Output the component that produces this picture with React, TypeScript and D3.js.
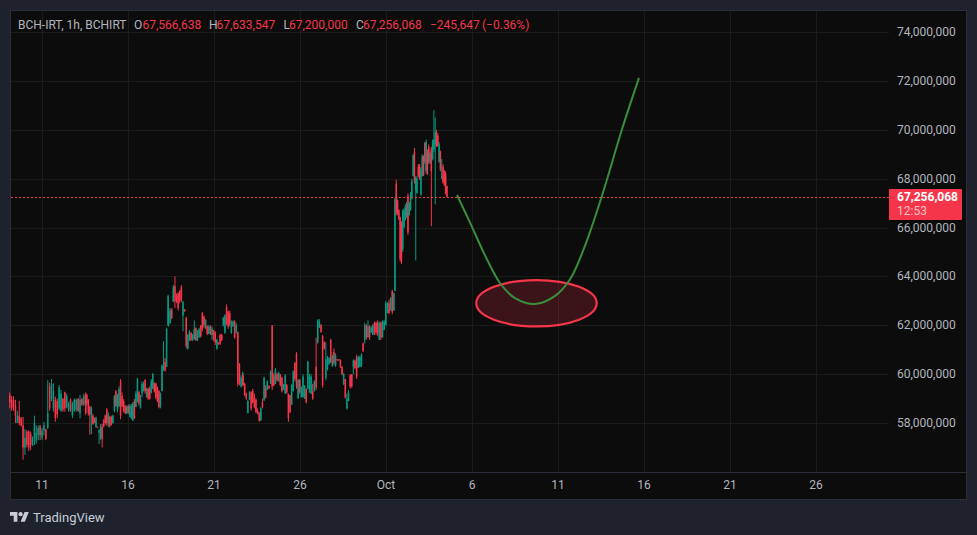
import * as d3 from 'd3';
import * as React from 'react';

type Candle = [number, number, number, number]; // open, high, low, close (millions)

const sepEarly: Candle[] = [
  [59.15,59.25,58.6,58.85],[58.95,59.1,58.5,58.6],[58.95,59.1,58.5,58.65],[58.7,58.95,58.0,58.3],
  [58.0,58.5,58.0,58.3],[58.3,58.9,57.9,58.0],[58.2,58.25,57.85,57.9],[57.9,58.25,56.5,57.0],
  [57.0,57.75,56.7,57.4],[57.65,57.7,57.0,57.1],[57.65,57.7,56.85,57.0],[57.55,57.65,56.9,57.1],
  [57.1,57.45,57.05,57.4],[57.4,58.3,57.1,58.0],[57.25,57.9,57.15,57.6],[57.5,57.9,57.3,57.8],
  [57.9,57.9,57.3,57.5],[57.4,57.8,57.3,57.7],[57.7,58.05,57.5,57.9],[57.75,57.75,57.3,57.35],
  [57.8,59.75,57.75,58.4],[59.5,59.65,58.5,58.6],[59.0,59.8,58.9,59.6],[58.6,59.62,58.46,59.3],
  [58.95,59.08,58.05,58.2],[58.9,59.0,58.2,58.35],[58.6,59.55,58.53,59.45],[58.5,59.35,58.46,59.2],
  [59.0,59.0,58.46,58.55],[59.25,59.28,58.46,58.6],[58.65,59.2,58.6,59.1],[58.5,58.87,58.46,58.8],
  [58.95,59.0,58.46,58.55],[58.3,58.87,58.2,58.8],[58.5,59.0,58.46,58.95],[58.55,59.0,58.46,58.95],
  [59.0,59.0,58.46,58.5],[58.4,59.15,58.2,58.95],[59.0,59.0,58.7,58.75],[58.75,59.2,58.7,59.1],
  [59.2,59.25,58.33,58.4],
];

const sepMid: Candle[] = [
  [59.15,59.19,58.71,58.8],[58.95,58.98,58.3,58.4],[58.65,58.71,57.52,58.35],[58.3,58.67,57.55,58.6],
  [58.3,58.37,57.93,57.95],[58.2,58.23,57.99,58.0],[57.85,58.26,57.8,58.2],[57.85,57.85,57.8,57.82],
  [57.6,57.75,57.14,57.7],[57.4,57.96,57.3,57.85],[57.85,57.96,57.0,57.35],[58.1,58.16,57.82,57.85],
  [58.3,58.34,57.93,58.0],[58.55,58.61,57.89,58.0],[57.95,58.44,57.82,58.35],[58.25,58.3,57.82,57.9],
  [58.25,58.3,57.89,57.95],[57.99,58.34,57.99,58.3],[58.5,59.15,58.44,59.1],[59.3,59.35,58.65,58.7],
  [58.55,59.19,58.44,59.1],[58.7,59.5,58.65,59.4],[59.7,59.8,58.15,58.3],[59.1,59.25,58.65,58.7],
  [58.9,58.98,58.44,58.5],[58.7,58.75,58.37,58.4],[58.4,58.71,58.37,58.65],[58.7,58.75,58.37,58.42],
  [58.25,58.78,58.25,58.7],[58.2,58.78,58.16,58.7],[58.1,58.85,58.1,58.8],[58.9,58.98,58.16,58.2],
  [58.65,59.3,58.65,59.2],[58.85,59.85,58.85,59.8],[59.25,59.3,58.71,58.8],[58.6,59.15,58.6,59.0],
  [59.2,59.7,59.05,59.6],[59.3,59.7,59.3,59.6],[59.75,59.8,59.2,59.3],[59.05,59.45,59.05,59.4],
  [59.4,59.45,58.95,59.0],[59.4,59.5,58.95,59.0],[59.25,59.8,59.2,59.7],[59.4,60.05,59.4,60.0],
  [59.65,59.65,59.25,59.3],[59.6,59.65,58.98,59.05],[59.45,59.5,58.85,58.9],[59.3,59.35,58.6,58.65],
  [58.7,59.25,58.6,59.2],[59.3,60.4,59.3,60.35],[60.15,61.35,60.15,60.3],[60.5,60.65,60.1,60.15],
  [60.3,61.9,60.3,61.85],[62.0,63.25,61.95,63.2],
];

const sepLate: Candle[] = [
  [62.0,62.8,61.95,62.7],[62.1,62.7,62.05,62.6],[62.65,62.7,62.25,62.3],[62.95,63.65,62.95,63.55],
  [63.6,64.0,62.7,63.0],[63.2,63.3,62.9,62.95],[63.3,63.35,62.6,62.7],[63.4,63.45,62.9,63.0],
  [63.55,63.65,62.95,63.05],[62.4,63.0,61.75,62.95],[62.65,62.65,62.55,62.58],[62.3,62.35,61.05,61.15],
  [61.05,61.65,61.0,61.6],[61.4,61.8,61.35,61.75],[61.7,61.7,61.35,61.4],[61.4,61.65,61.35,61.6],
  [61.45,62.2,61.4,61.85],[61.9,61.9,61.35,61.4],[61.4,61.8,61.35,61.75],[61.5,61.9,61.5,61.85],
  [62.0,62.0,61.5,61.55],[62.5,62.55,61.75,61.85],[62.35,62.4,61.9,62.0],[61.9,62.25,61.85,62.2],
  [61.95,62.0,61.6,61.65],[61.65,62.0,61.65,61.95],[61.95,62.0,61.6,61.65],[61.6,61.95,61.4,61.85],
  [61.8,61.8,61.35,61.45],[61.7,61.75,61.2,61.3],[61.05,61.45,61.0,61.4],[61.3,61.3,61.2,61.22],
  [61.6,61.65,61.2,61.25],[61.6,61.65,61.35,61.4],[62.0,62.35,61.95,62.3],[61.7,62.45,61.65,62.4],
  [62.75,62.85,62.0,62.1],[62.55,62.6,61.85,61.95],[62.5,62.6,61.95,62.05],[61.7,62.2,61.65,62.1],
  [61.95,62.2,61.95,62.15],[62.15,62.2,61.45,61.5],[61.7,62.1,61.65,62.0],[61.7,61.75,59.5,59.6],
  [60.4,60.45,59.55,59.65],[59.5,59.95,59.45,59.85],[59.6,60.1,59.55,60.05],
];

const sepLast: Candle[] = [
  [59.95,60.0,59.5,59.55],[59.6,59.65,59.1,59.15],[59.2,59.25,58.95,59.0],[58.4,58.95,58.4,58.9],
  [58.95,59.3,58.95,59.25],[59.25,59.3,58.5,58.6],[59.3,59.4,58.8,58.85],[59.05,59.2,58.6,58.65],
  [58.95,59.0,58.4,58.45],[58.5,58.6,58.35,58.38],[58.4,58.45,58.05,58.1],[58.1,58.65,58.1,58.6],
  [58.85,59.0,58.6,58.65],[58.95,59.9,58.9,59.85],[59.4,59.55,59.0,59.05],[59.35,59.75,59.35,59.7],
  [59.5,59.55,59.4,59.42],[59.6,60.15,59.7,60.1],[62.0,62.0,59.35,59.5],[59.95,60.05,59.5,59.55],
  [59.6,60.25,59.6,60.2],[60.0,60.05,59.7,59.75],[59.7,60.1,59.7,60.05],[60.0,60.0,59.5,59.55],
  [59.85,59.9,59.25,59.3],[59.4,59.6,59.35,59.55],[59.2,60.0,59.2,59.95],[59.55,59.6,59.2,59.25],
  [59.2,59.2,58.05,58.2],[59.15,59.15,58.4,58.45],[58.75,59.6,58.75,59.55],[59.3,60.15,59.3,60.1],
  [60.45,60.5,59.7,59.8],[60.85,60.9,59.4,59.5],[59.0,59.8,59.0,59.75],[59.75,59.8,59.2,59.25],
  [59.05,59.5,59.05,59.45],[59.05,60.0,59.05,59.9],[59.0,59.55,59.0,59.5],[59.4,59.4,58.8,58.85],
  [59.4,60.55,59.4,60.5],[59.25,60.0,59.25,59.9],[59.2,60.0,59.2,59.9],[59.3,59.6,58.95,59.0],
  [59.3,59.75,59.3,59.7],
];

const octTurn: Candle[] = [
  [60.3,61.5,59.35,59.45],
  [61.3,62.25,61.25,62.2],[61.9,62.25,61.9,62.15],[62.0,62.05,61.7,61.72],[61.55,61.6,59.45,59.55],
  [61.3,61.35,61.0,61.05],[59.85,61.3,59.75,60.6],[60.2,60.75,60.15,60.7],[60.4,60.7,60.4,60.65],
  [61.4,61.45,60.45,60.5],[60.35,60.8,60.3,60.75],[60.9,61.05,60.35,60.45],[60.35,60.85,60.3,60.75],
  [60.6,60.62,60.55,60.58],[60.6,60.62,60.55,60.58],[60.58,60.6,60.25,60.3],[60.3,60.32,59.95,60.0],
  [59.6,60.05,59.55,60.0],[59.8,59.8,59.0,59.05],[58.6,59.2,58.55,59.0],[58.9,59.35,58.9,59.25],
  [59.95,60.0,59.4,59.5],[60.0,60.0,59.45,59.5],[60.3,60.6,60.0,60.55],[60.55,60.6,60.2,60.25],
  [60.7,60.8,59.8,59.9],[60.25,60.75,60.25,60.7],[60.3,60.75,60.3,60.7],[60.35,60.85,60.3,60.8],
  [61.25,61.3,60.9,60.95],[61.4,62.1,61.25,62.0],[62.0,62.05,61.4,61.5],[61.5,62.2,61.5,61.95],
  [61.95,62.0,61.4,61.5],[61.7,61.95,61.7,61.9],[61.6,62.05,61.6,62.0],[62.1,62.15,61.6,61.7],
  [62.1,62.15,61.6,61.7],[62.1,62.2,61.55,61.65],[61.4,62.15,61.4,62.1],[62.1,62.15,61.4,61.5],
  [61.5,62.2,61.5,62.15],[61.8,62.2,61.8,62.15],[62.0,63.0,62.0,62.9],[62.5,62.95,62.5,62.9],
  [62.9,63.05,62.45,62.5],[62.6,63.15,62.6,63.1],[63.4,63.45,62.45,62.55],[62.6,63.35,62.6,63.3],
];

const octHigh: Candle[] = [
  [63.4,67.2,63.4,67.15],[67.8,67.95,66.5,66.6],[67.1,67.15,66.5,66.6],[66.7,66.75,66.3,66.35],
  [66.4,66.45,64.6,64.7],[66.2,66.25,64.5,64.6],[65.1,66.75,65.0,66.65],[66.0,66.8,66.0,66.7],
  [66.3,66.95,66.3,66.85],[66.4,67.05,66.4,67.0],[67.3,67.4,65.7,65.8],[66.5,67.05,66.5,67.0],
  [66.7,67.45,66.7,67.35],[67.2,68.0,67.15,67.9],[68.1,69.0,68.1,68.95],[69.1,69.25,67.8,67.9],
  [67.5,68.1,64.65,68.05],[67.4,68.1,67.4,68.0],[68.5,68.6,68.05,68.1],[68.5,68.6,67.95,68.0],
  [67.35,68.45,67.3,68.4],[68.1,69.0,68.1,68.9],[68.9,68.95,68.1,68.15],[69.45,69.5,68.6,68.7],
  [68.3,69.6,68.2,69.5],[69.1,69.2,68.15,68.2],[69.3,69.4,68.6,68.7],[68.65,69.1,68.6,69.05],
  [69.2,69.3,66.05,68.3],[68.8,69.6,68.75,69.5],[69.2,70.8,69.1,69.6],[69.4,70.5,66.95,69.9],
  [69.9,70.0,69.3,69.35],[69.75,69.85,69.3,69.35],[68.7,69.5,68.65,69.4],[69.1,69.15,68.3,68.35],
  [68.0,68.8,68.0,68.1],[68.5,68.6,67.8,67.85],[68.25,68.35,67.7,67.75],[68.2,68.3,67.35,67.4],
  [67.7,67.7,67.25,67.256],
];

// day spans each block of candles covers
const candleBlocks = [
  { bars: sepEarly, from: '2024-09-09T03:00Z', to: '2024-09-13T13:00Z' },
  { bars: sepMid, from: '2024-09-13T14:30Z', to: '2024-09-18T08:00Z' },
  { bars: sepLate, from: '2024-09-18T08:30Z', to: '2024-09-22T16:00Z' },
  { bars: sepLast, from: '2024-09-22T16:30Z', to: '2024-09-26T20:00Z' },
  { bars: octTurn, from: '2024-09-26T22:30Z', to: '2024-10-01T11:00Z' },
  { bars: octHigh, from: '2024-10-01T12:30Z', to: '2024-10-04T13:00Z' },
];

const priceTicks = [58, 60, 62, 64, 66, 68, 70, 72, 74];
const timeTicks = [
  ['2024-09-11', '11'], ['2024-09-16', '16'], ['2024-09-21', '21'], ['2024-09-26', '26'],
  ['2024-10-01', 'Oct'], ['2024-10-06', '6'], ['2024-10-11', '11'], ['2024-10-16', '16'],
  ['2024-10-21', '21'], ['2024-10-26', '26'],
];

// hand drawn projection
const projectionDates = [
  '2024-10-05T03:00Z', '2024-10-05T21:00Z', '2024-10-06T18:00Z', '2024-10-07T15:00Z',
  '2024-10-08T12:00Z', '2024-10-09T16:00Z', '2024-10-10T20:00Z', '2024-10-11T17:00Z',
  '2024-10-12T14:00Z', '2024-10-13T15:00Z', '2024-10-14T17:00Z', '2024-10-15T17:00Z',
];
const projectionPrices = [67.33, 66.22, 64.87, 63.73, 63.11, 62.87, 63.2, 63.89, 65.28, 67.45, 69.99, 72.12];
const zoneLeft = '2024-10-06T06:00Z';
const zoneRight = '2024-10-13T06:00Z';
const zoneTop = 63.85;
const zoneBottom = 61.95;

const lastPrice = 67.256068;

const headerColor = '#b2b5be';
const up = '#089981';
const down = '#f5364a';
const font = 'Roboto, sans-serif';

const x = d3.scaleUtc().domain([new Date('2024-09-11'), new Date('2024-10-01')]).range([42, 386]);
const y = d3.scaleLinear().domain([58, 74]).range([423, 32]);

const priceFormat = d3.format(',');

export default function App() {
  const candles = candleBlocks.flatMap((block) => {
    const t = d3
      .scaleLinear()
      .domain([0, block.bars.length - 1])
      .range([+new Date(block.from), +new Date(block.to)]);
    return block.bars.map((c, i) => ({ t: new Date(t(i)), c }));
  });

  const line = d3
    .line<number>()
    .x((_, i) => x(new Date(projectionDates[i])))
    .y((d) => y(d))
    .curve(d3.curveCatmullRom.alpha(0.5));

  const zoneL = x(new Date(zoneLeft));
  const zoneR = x(new Date(zoneRight));

  return (
    <svg width={977} height={535} style={{ position: 'absolute', left: 0, top: 0 }} fontFamily={font}>
      <rect width={977} height={535} fill="#1e222d" />
      <rect x={10.5} y={10.5} width={956} height={489} fill="#0c0c0c" stroke="#2a2e39" />

      {priceTicks.map((p) => (
        <line key={p} x1={11} x2={889} y1={Math.round(y(p)) + 0.5} y2={Math.round(y(p)) + 0.5} stroke="#1b1b1b" />
      ))}
      {timeTicks.map(([d]) => (
        <line
          key={d}
          x1={Math.round(x(new Date(d))) + 0.5}
          x2={Math.round(x(new Date(d))) + 0.5}
          y1={11}
          y2={472}
          stroke="#1b1b1b"
        />
      ))}
      <line x1={11} x2={966} y1={472.5} y2={472.5} stroke="#2a2e39" />

      {candles.map(({ t, c }, i) => {
        const [o, h, l, cl] = c;
        const color = cl >= o ? up : down;
        const cx = x(t);
        return (
          <g key={i} fill={color}>
            <rect x={cx - 0.5} width={1} y={y(h)} height={Math.max(1, y(l) - y(h))} />
            <rect
              x={cx - 0.75}
              width={1.5}
              y={y(Math.max(o, cl))}
              height={Math.max(1, Math.abs(y(o) - y(cl)))}
            />
          </g>
        );
      })}

      <line x1={11} x2={889} y1={197.5} y2={197.5} stroke={down} strokeDasharray="2 2" />

      <ellipse
        cx={(zoneL + zoneR) / 2}
        cy={(y(zoneTop) + y(zoneBottom)) / 2}
        rx={(zoneR - zoneL) / 2}
        ry={(y(zoneBottom) - y(zoneTop)) / 2}
        fill={down}
        fillOpacity={0.2}
        stroke={down}
        strokeWidth={2.2}
      />
      <path d={line(projectionPrices) ?? ''} fill="none" stroke="#388e3c" strokeWidth={2} />

      <g fontSize={12}>
        <text x={18} y={29} fill={headerColor}>BCH-IRT, 1h, BCHIRT</text>
        <text x={134} y={29} fill={headerColor}>O</text>
        <text x={142.5} y={29} fill={down}>67,566,638</text>
        <text x={209} y={29} fill={headerColor}>H</text>
        <text x={216.5} y={29} fill={down}>67,633,547</text>
        <text x={283.5} y={29} fill={headerColor}>L</text>
        <text x={289} y={29} fill={down}>67,200,000</text>
        <text x={356} y={29} fill={headerColor}>C</text>
        <text x={363} y={29} fill={down}>67,256,068</text>
        <text x={430} y={29} fill={down}>−245,647</text>
        <text x={482} y={29} fill={down}>(−0.36%)</text>
      </g>

      <g fontSize={12} fill={headerColor}>
        {priceTicks.map((p) => (
          <text key={p} x={897} y={y(p) + 4}>{priceFormat(p * 1e6)}</text>
        ))}
        {timeTicks.map(([d, label]) => (
          <text key={d} x={x(new Date(d))} y={489} textAnchor="middle">{label}</text>
        ))}
      </g>

      <rect x={889} y={189} width={73} height={31} rx={1} fill={down} />
      <text x={897} y={201} fontSize={12} fontWeight={700} fill="#fff">{priceFormat(Math.round(lastPrice * 1e6))}</text>
      <text x={897} y={215} fontSize={12} fill="#fff" fillOpacity={0.7}>12:53</text>

      <g transform="translate(10,510) scale(0.53)" fill="#c8ccd6">
        <path d="M14 22H7V11H0V4h14v18zM28 22h-8l7.5-18h8L28 22z" />
        <circle cx={20} cy={8} r={4} />
      </g>
      <text x={33} y={522} fontSize={13} fill="#c8ccd6">TradingView</text>
    </svg>
  );
}
